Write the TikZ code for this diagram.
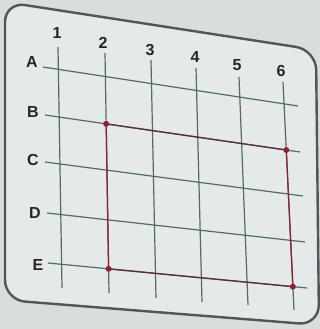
\documentclass[tikz,border=0pt]{standalone}
\usepackage{fontspec}
\setmainfont{Liberation Sans}
\definecolor{paper}{HTML}{D9DDDC}
\definecolor{cardcol}{HTML}{E5E9E8}
\definecolor{framecol}{HTML}{4E575B}
\definecolor{gridcol}{HTML}{4F6B6D}
\definecolor{rectred}{HTML}{8E2232}
\definecolor{rowred}{HTML}{5A2E38}
\begin{document}
\begin{tikzpicture}[x=1pt, y=-1pt,
    every node/.style={font=\bfseries\fontsize{16}{16}\selectfont, text=black!85},
    gline/.style={draw=gridcol, line width=1.2pt},
    rline/.style={draw=rectred, line width=1.3pt},
    hline/.style={draw=rowred, line width=1.3pt},
    dot/.style={circle, fill=rectred, inner sep=0pt, minimum size=6pt},
]
    \useasboundingbox[fill=paper] (0,0) rectangle (320,329);
    %% card frame
    \draw[line width=2.4pt, draw=framecol, fill=cardcol, rounded corners=20pt]
        (5,2) -- (316,50) -- (319,325) -- (5,300) -- cycle;
    %% column lines 1..6
    \foreach \n/\xl/\yl/\xt/\yt/\xb/\yb in {1/57/33/58/47/62/288, 2/103/43/105/53/109/293,
        3/150/50/151/60/156/298, 4/195/57/196/68/202/302,
        5/237/65/239/77/248/305, 6/281/71/283/82/294/310} {
        \coordinate (c\n t) at (\xt,\yt);
        \coordinate (c\n b) at (\xb,\yb);
        \node (col\n) at (\xl,\yl) {\n};
        \draw[gline] (c\n t) -- (c\n b);
    }
    %% row lines A..E
    \foreach \r/\xl/\yl/\xs/\ys/\xe/\ye in {A/32/62/43/67/298/106, B/33/112/45/115/300/152,
        C/33/160/45/162/303/196, D/35/213/47/213/305/242, E/38/265/48/263/307/288} {
        \coordinate (r\r s) at (\xs,\ys);
        \coordinate (r\r e) at (\xe,\ye);
        \node (row\r) at (\xl,\yl) {\r};
        \draw[gline] (r\r s) -- (r\r e);
    }
    %% corners of the marked rectangle
    \coordinate (B2) at (intersection of c2t--c2b and rBs--rBe);
    \coordinate (B6) at (intersection of c6t--c6b and rBs--rBe);
    \coordinate (E2) at (intersection of c2t--c2b and rEs--rEe);
    \coordinate (E6) at (intersection of c6t--c6b and rEs--rEe);
    \draw[hline] (B2) -- (B6);
    \draw[hline] (E2) -- (E6);
    \draw[rline] (B2) -- (E2);
    \draw[rline] (B6) -- (E6);
    \foreach \p in {B2,B6,E2,E6} \node[dot] (d\p) at (\p) {};
\end{tikzpicture}
\end{document}
